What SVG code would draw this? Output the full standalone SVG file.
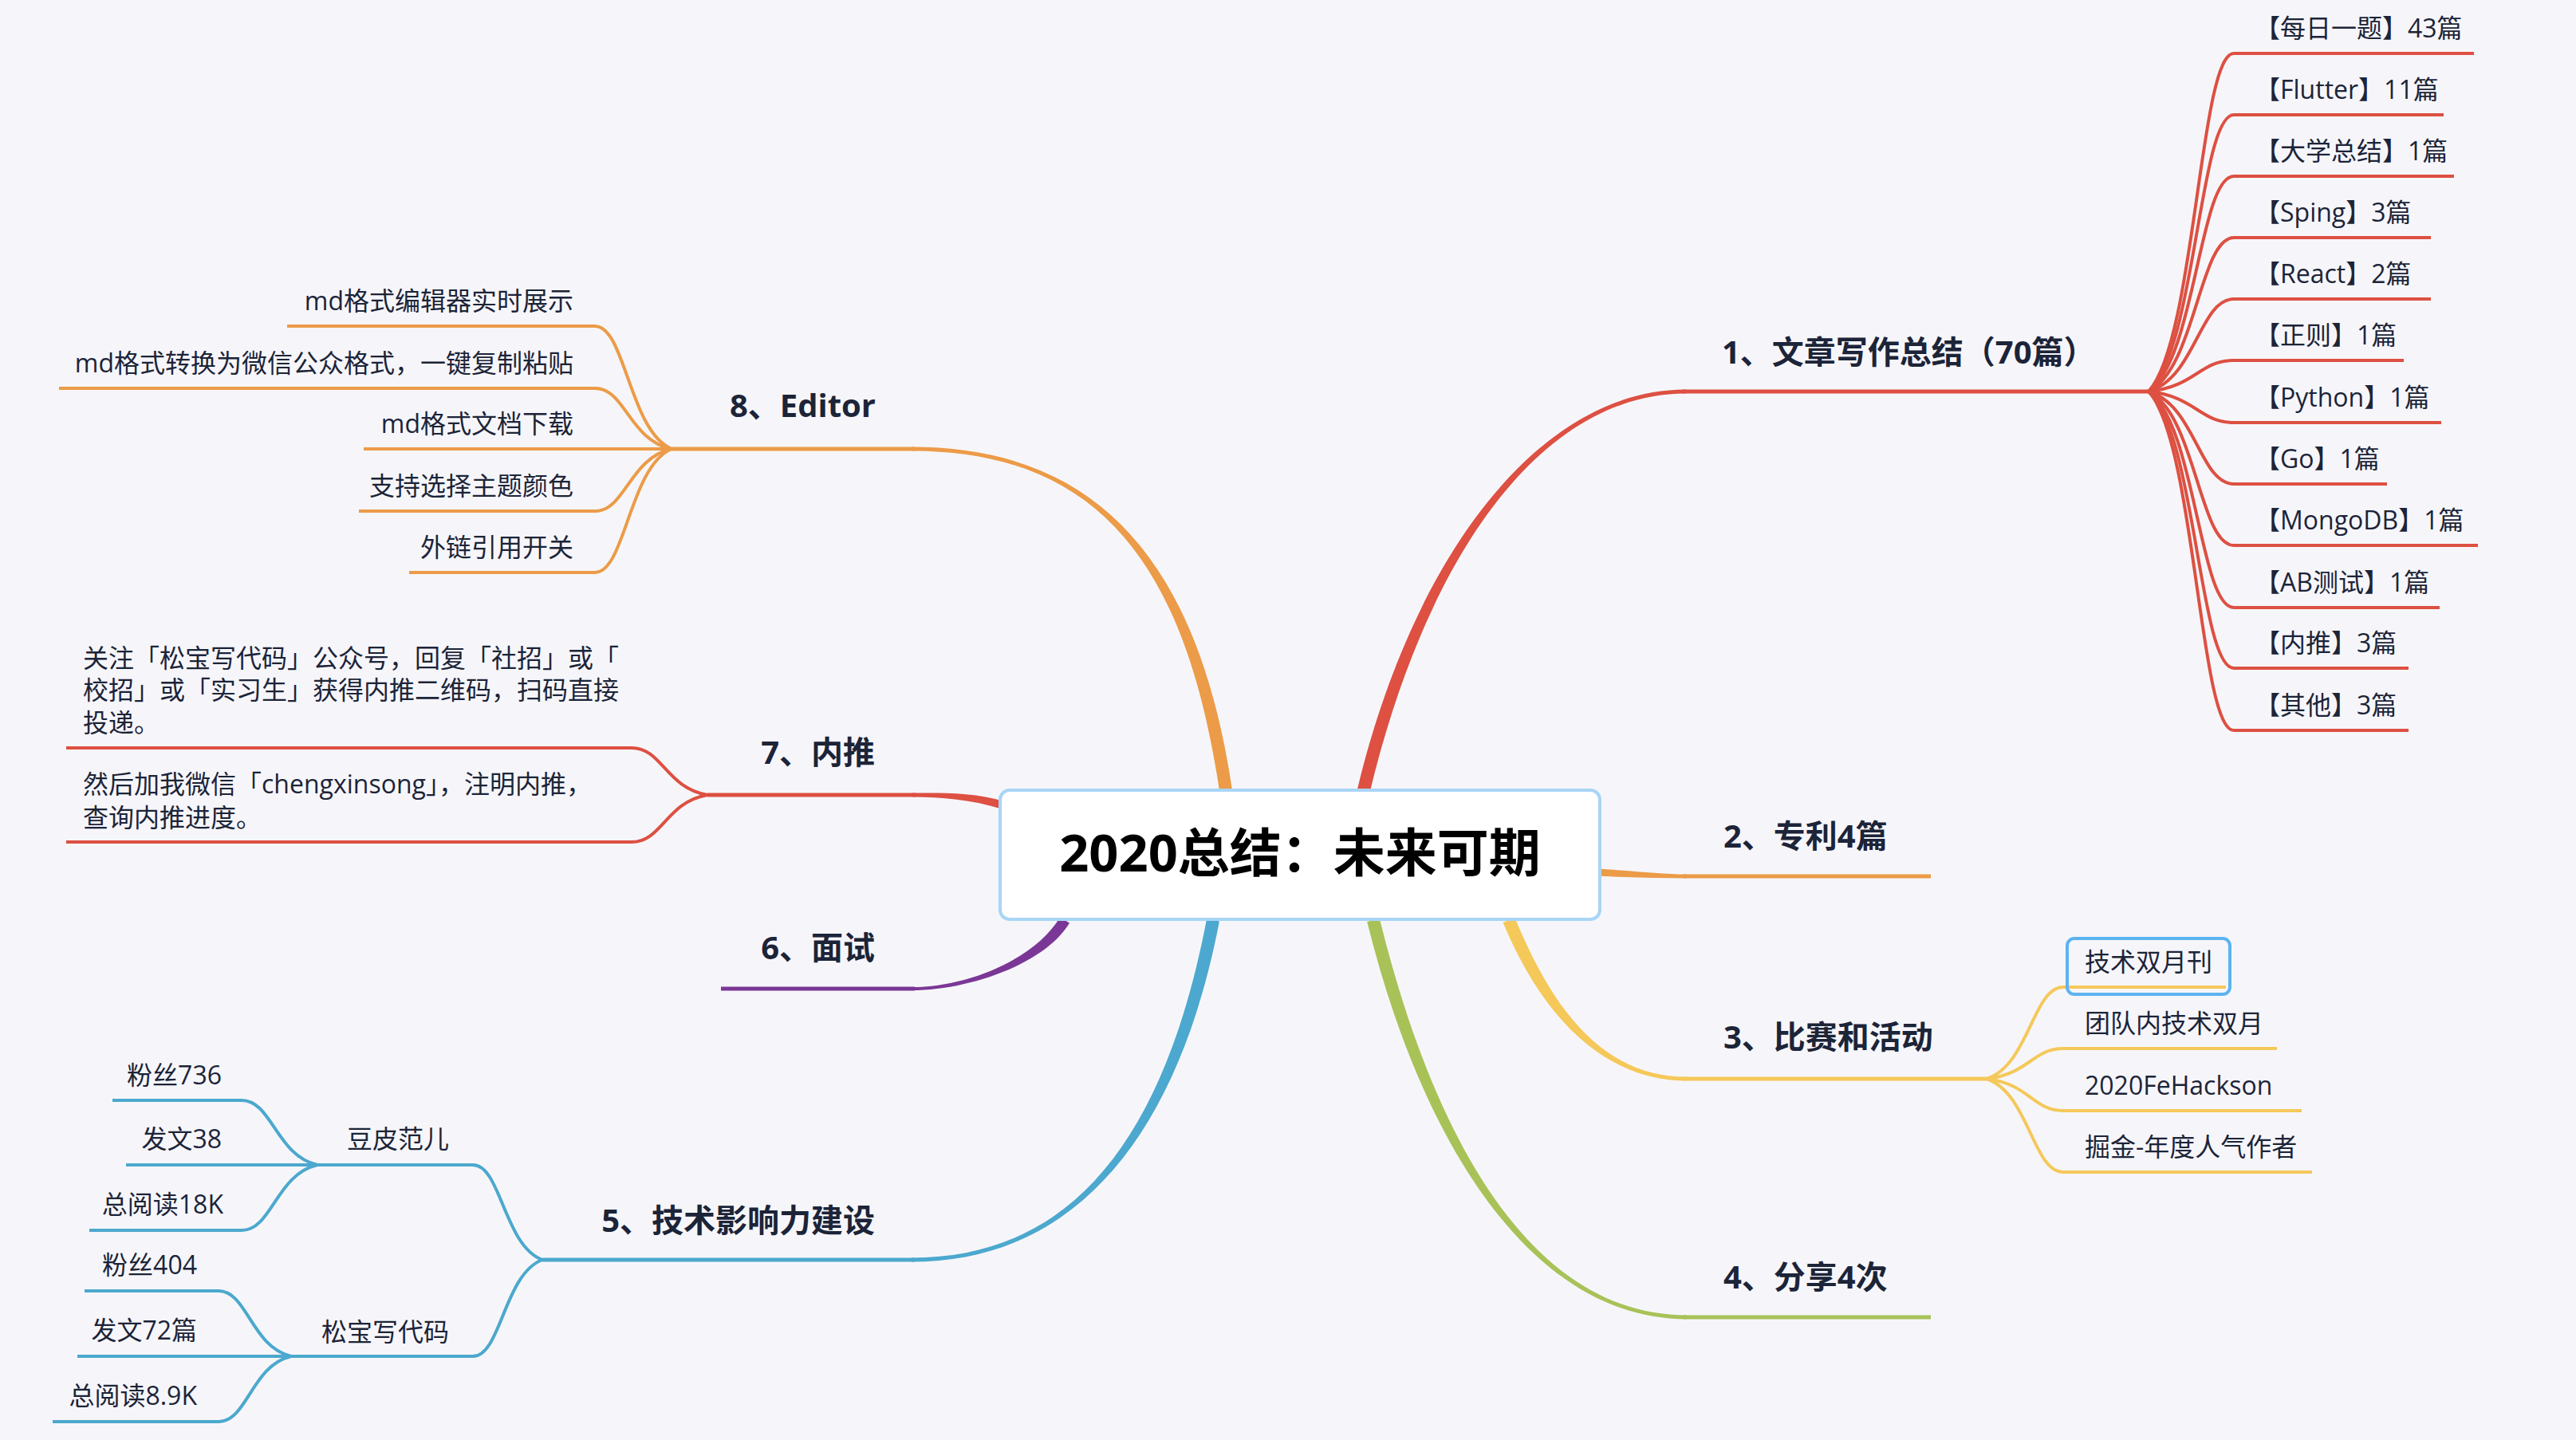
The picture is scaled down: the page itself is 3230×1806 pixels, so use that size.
<svg xmlns="http://www.w3.org/2000/svg" width="3230" height="1806" viewBox="0 0 3230 1806">
<style>
.t3{font-family:'Open Sans','Noto Sans CJK SC',sans-serif;font-size:32px;fill:#1c2438}
.t1{font-family:'Open Sans','Noto Sans CJK SC',sans-serif;font-size:40px;font-weight:700;fill:#1c2438}
.tc{font-family:'Open Sans','Noto Sans CJK SC',sans-serif;font-size:65px;font-weight:700;fill:#000;text-anchor:middle}
.e{text-anchor:end}
.ln{fill:none;stroke-width:4}
.mn{fill:none;stroke-width:5}
.red{stroke:#dd5042}.org{stroke:#ec9b48}.yel{stroke:#f5c85a}.grn{stroke:#a8c258}.blu{stroke:#4ca8ce}.pur{stroke:#7b3796}
</style>
<rect width="3230" height="1806" fill="#f6f6fa"/>
<g id="connectors">
<!-- tapered root branches -->
<path fill="#dd5042" d="M1717.8 992.9 C1787.8 701.9 1930 493.5 2114 493.5 L2114 488.5 C1930 488.5 1772.2 698.1 1702.2 989.1 Z"/>
<path fill="#ec9b48" d="M2003 1098.5 C2040 1100.5 2080 1101.5 2115 1101.5 L2115 1096.5 C2080 1096.5 2040 1091.5 2003 1089.5 Z"/>
<path fill="#f5c85a" d="M1884.6 1157.1 C1932.6 1273.1 2010 1355.5 2115 1355.5 L2115 1350.5 C2010 1350.5 1947.4 1266.9 1899.4 1150.9 Z"/>
<path fill="#a8c258" d="M1714.2 1155.9 C1782.2 1431.9 1920 1654.5 2115 1654.5 L2115 1649.5 C1920 1649.5 1797.8 1428.1 1729.8 1152.1 Z"/>
<path fill="#4ca8ce" d="M1513.1 1152.5 C1462.1 1418.5 1350 1577.5 1143 1577.5 L1143 1582.5 C1350 1582.5 1477.9 1421.5 1528.9 1155.5 Z"/>
<path fill="#7b3796" d="M1329 1150.5 C1299 1201.5 1215 1238 1143 1238 L1143 1242 C1215 1242 1311 1208.5 1341 1157.5 Z"/>
<path fill="#dd5042" d="M1259.5 1005.2 C1221.5 993.2 1180 994.5 1144 994.5 L1144 999.5 C1180 999.5 1218.5 1002.8 1256.5 1014.8 Z"/>
<path fill="#ec9b48" d="M1544.9 989.8 C1502.9 708.8 1380 560.5 1143 560.5 L1143 565.5 C1380 565.5 1487.1 711.2 1529.1 992.2 Z"/>
<!-- main underlines -->
<path class="mn red" d="M2110 491 H2694"/>
<path class="mn org" d="M2111 1099 H2421"/>
<path class="mn yel" d="M2111 1353 H2491"/>
<path class="mn grn" d="M2111 1652 H2421"/>
<path class="mn blu" d="M1147 1580 H680"/>
<path class="mn pur" d="M1147 1240 H904"/>
<path class="mn red" d="M1148 997 H887"/>
<path class="mn org" d="M1147 563 H842"/>
<!-- branch 1 children -->
<g class="ln red">
<path d="M2694 491 C2753 427 2758 67 2801 67 H3102"/>
<path d="M2694 491 C2753 439 2758 144 2801 144 H3064"/>
<path d="M2694 491 C2753 450 2758 221 2801 221 H3077"/>
<path d="M2694 491 C2753 462 2758 298 2801 298 H3048"/>
<path d="M2694 491 C2753 474 2758 375 2801 375 H3048"/>
<path d="M2694 491 C2753 485 2758 452 2801 452 H3014"/>
<path d="M2694 491 C2753 497 2758 530 2801 530 H3061"/>
<path d="M2694 491 C2753 508 2758 607 2801 607 H2993"/>
<path d="M2694 491 C2753 520 2758 684 2801 684 H3107"/>
<path d="M2694 491 C2753 532 2758 762 2801 762 H3059"/>
<path d="M2694 491 C2753 543 2758 838 2801 838 H3020"/>
<path d="M2694 491 C2753 555 2758 916 2801 916 H3020"/>
</g>
<!-- branch 3 children -->
<g class="ln yel">
<path d="M2491 1353 C2544 1336 2549 1238 2587 1238 H2791"/>
<path d="M2491 1353 C2544 1347 2549 1315 2587 1315 H2855"/>
<path d="M2491 1353 C2544 1359 2549 1393 2587 1393 H2886"/>
<path d="M2491 1353 C2544 1371 2549 1470 2587 1470 H2899"/>
</g>
<!-- branch 8 children -->
<g class="ln org">
<path d="M842 563 C789 540 784 409 746 409 H360"/>
<path d="M842 563 C789 552 784 487 746 487 H74"/>
<path d="M842 563 H456"/>
<path d="M842 563 C789 575 784 641 746 641 H450"/>
<path d="M842 563 C789 586 784 718 746 718 H513"/>
</g>
<!-- branch 7 children -->
<g class="ln red">
<path d="M887 997 C835 988 830 938 792 938 H83"/>
<path d="M887 997 C835 1006 830 1056 792 1056 H83"/>
</g>
<!-- branch 5 children -->
<g class="ln blu">
<path d="M680 1580 C632 1562 628 1461 593 1461 H398"/>
<path d="M680 1580 C632 1598 628 1701 593 1701 H365"/>
<path d="M398 1461 C346 1449 341 1380 303 1380 H141"/>
<path d="M398 1461 H158"/>
<path d="M398 1461 C346 1473 341 1543 303 1543 H112"/>
<path d="M365 1701 C315 1689 310 1619 274 1619 H106"/>
<path d="M365 1701 H97"/>
<path d="M365 1701 C315 1713 310 1783 274 1783 H66"/>
</g>
</g>
<g id="root">
<rect x="1254" y="991" width="752" height="162" rx="12" fill="#fff" stroke="#a9d5f6" stroke-width="4"/>
<text class="tc" x="1630" y="1093">2020总结：未来可期</text>
</g>
<g id="b1"><text class="t1" x="2159" y="456">1、文章写作总结（70篇）</text></g>
<g id="b1-items">
<text class="t3" x="2827" y="47">【每日一题】43篇</text>
<text class="t3" x="2827" y="124">【Flutter】11篇</text>
<text class="t3" x="2827" y="201">【大学总结】1篇</text>
<text class="t3" x="2827" y="278">【Sping】3篇</text>
<text class="t3" x="2827" y="355">【React】2篇</text>
<text class="t3" x="2827" y="432">【正则】1篇</text>
<text class="t3" x="2827" y="510">【Python】1篇</text>
<text class="t3" x="2827" y="587">【Go】1篇</text>
<text class="t3" x="2827" y="664">【MongoDB】1篇</text>
<text class="t3" x="2827" y="742">【AB测试】1篇</text>
<text class="t3" x="2827" y="818">【内推】3篇</text>
<text class="t3" x="2827" y="896">【其他】3篇</text>
</g>
<g id="b2"><text class="t1" x="2161" y="1063">2、专利4篇</text></g>
<g id="b3"><text class="t1" x="2161" y="1315">3、比赛和活动</text></g>
<g id="b3-items">
<rect x="2592" y="1177" width="204" height="70" rx="9" fill="none" stroke="#5cb3f0" stroke-width="4"/>
<text class="t3" x="2614" y="1218">技术双月刊</text>
<text class="t3" x="2614" y="1295">团队内技术双月</text>
<text class="t3" x="2614" y="1373">2020FeHackson</text>
<text class="t3" x="2614" y="1450">掘金-年度人气作者</text>
</g>
<g id="b4"><text class="t1" x="2161" y="1616">4、分享4次</text></g>
<g id="b5"><text class="t1 e" x="1097" y="1545">5、技术影响力建设</text></g>
<g id="b5-items">
<text class="t3 e" x="563" y="1440">豆皮范儿</text>
<text class="t3 e" x="563" y="1682">松宝写代码</text>
<text class="t3 e" x="278" y="1360">粉丝736</text>
<text class="t3 e" x="278" y="1440">发文38</text>
<text class="t3 e" x="280" y="1522">总阅读18K</text>
<text class="t3 e" x="247" y="1598">粉丝404</text>
<text class="t3 e" x="247" y="1680">发文72篇</text>
<text class="t3 e" x="247" y="1762">总阅读8.9K</text>
</g>
<g id="b6"><text class="t1 e" x="1097" y="1203">6、面试</text></g>
<g id="b7"><text class="t1 e" x="1097" y="958">7、内推</text></g>
<g id="b7-items">
<text class="t3" x="104" y="837">关注「松宝写代码」公众号，回复「社招」或「</text>
<text class="t3" x="104" y="877">校招」或「实习生」获得内推二维码，扫码直接</text>
<text class="t3" x="104" y="918">投递。</text>
<text class="t3" x="104" y="995">然后加我微信「chengxinsong」，注明内推，</text>
<text class="t3" x="104" y="1037">查询内推进度。</text>
</g>
<g id="b8"><text class="t1 e" x="1098" y="523">8、Editor</text></g>
<g id="b8-items">
<text class="t3 e" x="719" y="389">md格式编辑器实时展示</text>
<text class="t3 e" x="719" y="467">md格式转换为微信公众格式，一键复制粘贴</text>
<text class="t3 e" x="719" y="543">md格式文档下载</text>
<text class="t3 e" x="719" y="621">支持选择主题颜色</text>
<text class="t3 e" x="719" y="698">外链引用开关</text>
</g>
</svg>
